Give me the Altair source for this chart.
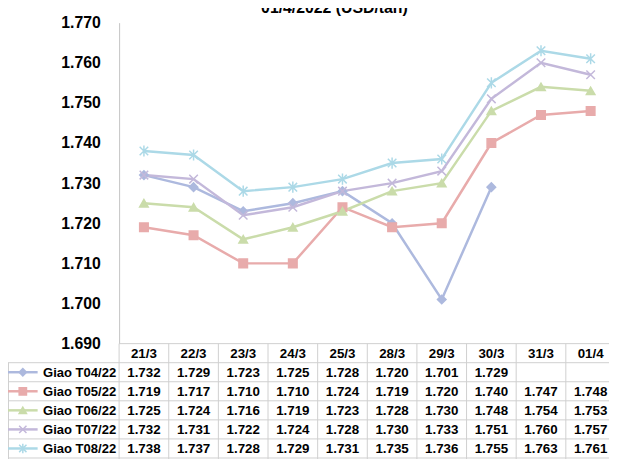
import altair as alt
import pandas as pd

# ---------------- data ----------------
dates = ["21/3", "22/3", "23/3", "24/3", "25/3", "28/3", "29/3", "30/3", "31/3", "01/4"]
series_names = ["Giao T04/22", "Giao T05/22", "Giao T06/22", "Giao T07/22", "Giao T08/22"]
t04 = [1.732, 1.729, 1.723, 1.725, 1.728, 1.720, 1.701, 1.729, None, None]
t05 = [1.719, 1.717, 1.710, 1.710, 1.724, 1.719, 1.720, 1.740, 1.747, 1.748]
t06 = [1.725, 1.724, 1.716, 1.719, 1.723, 1.728, 1.730, 1.748, 1.754, 1.753]
t07 = [1.732, 1.731, 1.722, 1.724, 1.728, 1.730, 1.733, 1.751, 1.760, 1.757]
t08 = [1.738, 1.737, 1.728, 1.729, 1.731, 1.735, 1.736, 1.755, 1.763, 1.761]
y_ticks = [1.690, 1.700, 1.710, 1.720, 1.730, 1.740, 1.750, 1.760, 1.770]
title_text = "01/4/2022 (USD/tấn)"

# ---------------- style ----------------
colors = ["#adb9de", "#e8abab", "#cadcaa", "#c3b8da", "#acd9e7"]
X_PATH = "M-1,-1L1,1M-1,1L1,-1"
STAR_PATH = "M-1,-1L1,1M-1,1L1,-1M0,-1.3L0,1.3"
shapes = ["diamond", "square", "triangle-up", X_PATH, STAR_PATH]
FONT = "Liberation Sans"
GRID = "#cfcfcf"

W, H = 496, 325
ROW_H = 19.3
LEG_LEFT = -112.5

rows = []
for r, (name, vals) in enumerate(zip(series_names, [t04, t05, t06, t07, t08])):
    for i, (d, v) in enumerate(zip(dates, vals)):
        rows.append(dict(series=name, row=r, idx=i, date=d, value=v))
df = pd.DataFrame(rows)
df_valid = df.dropna(subset=["value"])

hdr = pd.DataFrame({"idx": list(range(len(dates))), "date": dates})
legend_df = pd.DataFrame({"series": series_names, "row": list(range(len(series_names)))})
vlines = pd.DataFrame({"b": [i - 0.5 for i in range(len(dates) + 1)]})
hlines = pd.DataFrame({"k": list(range(1, len(series_names) + 2))})
title_df = pd.DataFrame({"t": [title_text]})

x_scale = alt.Scale(domain=[-0.5, len(dates) - 0.63], nice=False, zero=False)
X = alt.X("idx:Q", scale=x_scale, axis=None)
color = alt.Color("series:N", scale=alt.Scale(domain=series_names, range=colors), legend=None)
stroke = alt.Stroke("series:N", scale=alt.Scale(domain=series_names, range=colors), legend=None)
shape = alt.Shape("series:N", scale=alt.Scale(domain=series_names, range=shapes), legend=None)

y_axis = alt.Axis(values=y_ticks, format=".3f", labelFont=FONT, labelFontSize=16,
                  labelFontWeight="bold", labelColor="black", ticks=False, grid=False,
                  domainColor="#c4c4c4", domainWidth=1, labelPadding=19, title=None)
Y = alt.Y("value:Q", scale=alt.Scale(domain=[1.69, 1.77], nice=False, zero=False), axis=y_axis)
Y_noaxis = alt.Y("value:Q", scale=alt.Scale(domain=[1.69, 1.77], nice=False, zero=False), axis=None)

lines = alt.Chart(df_valid).mark_line(strokeWidth=2.5).encode(
    x=X, y=Y, color=color, detail="series:N")
points = alt.Chart(df_valid).mark_point(filled=True, strokeWidth=1.5, opacity=1, size=75).encode(
    x=X, y=Y_noaxis, fill=color, stroke=stroke, shape=shape)

ypix = alt.Y("ypix:Q", scale=None, axis=None)

# table header
header = alt.Chart(hdr).mark_text(font=FONT, fontSize=13.5, fontWeight="bold", color="black").transform_calculate(
    ypix=f"{H} + {ROW_H}/2 + 1").encode(x=X, y=ypix, text="date:N")

# table values
values = alt.Chart(df_valid).mark_text(font=FONT, fontSize=13.5, fontWeight="bold", color="black").transform_calculate(
    ypix=f"{H} + {ROW_H} * (datum.row + 1.5) + 1").encode(
    x=X, y=ypix, text=alt.Text("value:Q", format=".3f"))

# legend column
leg_text = alt.Chart(legend_df).mark_text(font=FONT, fontSize=13.2, fontWeight="bold", color="black",
                                          align="right").transform_calculate(
    ypix=f"{H} + {ROW_H} * (datum.row + 1.5) + 1").encode(x=alt.value(-3), y=ypix, text="series:N")
leg_line = alt.Chart(legend_df).mark_rule(strokeWidth=2.5).transform_calculate(
    ypix=f"{H} + {ROW_H} * (datum.row + 1.5)").encode(
    x=alt.value(LEG_LEFT), x2=alt.value(-82.5), y=ypix, color=color)
leg_pt = alt.Chart(legend_df).mark_point(filled=True, strokeWidth=1.5, opacity=1, size=55).transform_calculate(
    ypix=f"{H} + {ROW_H} * (datum.row + 1.5)").encode(
    x=alt.value(-97.5), y=ypix, fill=color, stroke=stroke, shape=shape)

# grid
v_rules = alt.Chart(vlines).mark_rule(color=GRID, strokeWidth=1).encode(
    x=alt.X("b:Q", scale=x_scale, axis=None), y=alt.value(H), y2=alt.value(H + 140))
left_rule = alt.Chart(title_df).mark_rule(color=GRID, strokeWidth=1).encode(
    x=alt.value(LEG_LEFT + 0.5), y=alt.value(H + ROW_H), y2=alt.value(H + 140))
top_rule = alt.Chart(title_df).mark_rule(color=GRID, strokeWidth=1).encode(
    x=alt.value(0), x2=alt.value(W + 20), y=alt.value(H))
h_rules = alt.Chart(hlines).mark_rule(color=GRID, strokeWidth=1).transform_calculate(
    ypix=f"{H} + {ROW_H} * datum.k").encode(x=alt.value(LEG_LEFT), x2=alt.value(W + 20), y=ypix)

title = alt.Chart(title_df).mark_text(font=FONT, fontSize=16, fontWeight="bold", color="black",
                                      baseline="alphabetic").encode(
    x=alt.value(218), y=alt.value(-10), text="t:N")

chart = alt.layer(
    v_rules, left_rule, top_rule, h_rules,
    lines, points,
    header, values, leg_line, leg_pt, leg_text, title,
).resolve_scale(y="independent").properties(
    width=W, height=H,
    autosize=alt.AutoSizeParams(type="none"),
    padding={"left": 112.5, "top": 12, "right": 0, "bottom": 114},
    background="white",
).configure_view(stroke=None)

chart.save("out.html", embed_options={"renderer": "svg", "actions": False})
